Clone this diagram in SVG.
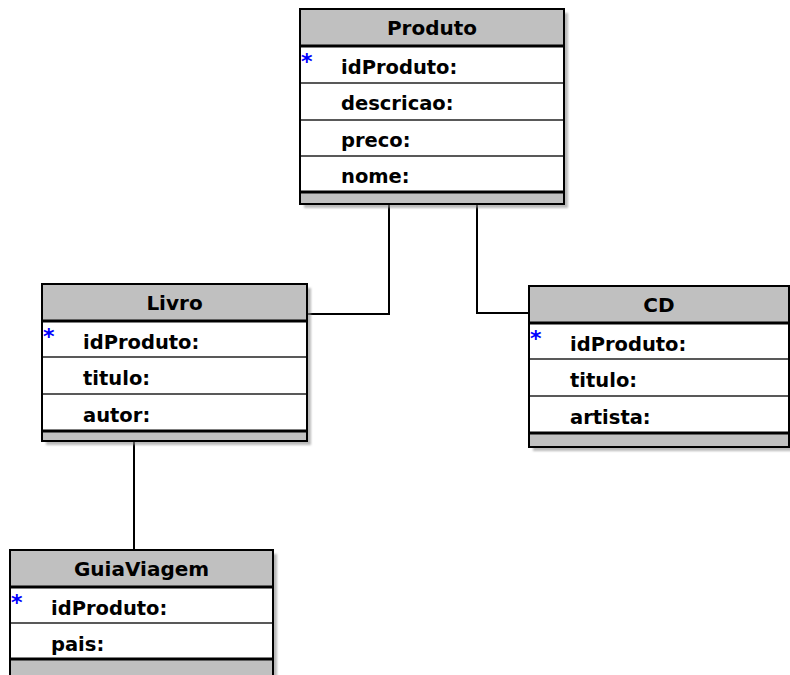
<svg xmlns="http://www.w3.org/2000/svg" width="790" height="675" viewBox="0 0 790 675">
  <style>
    .shadow { fill: #8c8c8c; opacity: 0.6; }
    .head { fill: #c0c0c0; }
    .body { fill: #ffffff; }
    .frame { fill: none; stroke: #000; stroke-width: 2; }
    .sep { stroke: #222; stroke-width: 1.5; }
    .thick { stroke: #000; stroke-width: 3; }
    .title { font-family: "DejaVu Sans", Verdana, sans-serif; font-weight: bold; font-size: 20px; fill: #000; text-anchor: middle; }
    .attr { font-family: "DejaVu Sans", Verdana, sans-serif; font-weight: bold; font-size: 19.5px; fill: #000; }
    .key { font-family: "DejaVu Sans", sans-serif; font-weight: bold; font-size: 22px; fill: #0000ff; }
    .link { fill: none; stroke: #000; stroke-width: 2; }
  </style>
  <defs>
    <filter id="soft" x="-5%" y="-5%" width="110%" height="110%">
      <feGaussianBlur stdDeviation="1.2"/>
    </filter>
  </defs>

  <rect width="790" height="675" fill="#fff"/>

  <g id="connectors">
    <polyline class="link" points="389,204 389,314 307,314"/>
    <polyline class="link" points="477,204 477,313 529,313"/>
    <line class="link" x1="134" y1="441" x2="134" y2="550"/>
  </g>

  <!-- Produto -->
  <g id="produto">
    <rect class="shadow" x="304" y="13" width="264" height="195" filter="url(#soft)"/>
    <rect class="body" x="300" y="9" width="264" height="195"/>
    <rect class="head" x="300" y="9" width="264" height="37"/>
    <rect class="head" x="300" y="193" width="264" height="11"/>
    <line class="thick" x1="300" y1="46" x2="564" y2="46"/>
    <line class="sep" x1="300" y1="83" x2="564" y2="83"/>
    <line class="sep" x1="300" y1="120" x2="564" y2="120"/>
    <line class="sep" x1="300" y1="156" x2="564" y2="156"/>
    <line class="thick" x1="300" y1="192" x2="564" y2="192"/>
    <rect class="frame" x="300" y="9" width="264" height="195"/>
    <text class="title" x="432" y="35">Produto</text>
    <text class="key" x="301" y="69">*</text>
    <text class="attr" x="341" y="74">idProduto:</text>
    <text class="attr" x="341" y="110">descricao:</text>
    <text class="attr" x="341" y="147">preco:</text>
    <text class="attr" x="341" y="183">nome:</text>
  </g>

  <!-- Livro -->
  <g id="livro">
    <rect class="shadow" x="46" y="288" width="265" height="157" filter="url(#soft)"/>
    <rect class="body" x="42" y="284" width="265" height="157"/>
    <rect class="head" x="42" y="284" width="265" height="37"/>
    <rect class="head" x="42" y="432" width="265" height="9"/>
    <line class="thick" x1="42" y1="321" x2="307" y2="321"/>
    <line class="sep" x1="42" y1="357" x2="307" y2="357"/>
    <line class="sep" x1="42" y1="394" x2="307" y2="394"/>
    <line class="thick" x1="42" y1="431" x2="307" y2="431"/>
    <rect class="frame" x="42" y="284" width="265" height="157"/>
    <text class="title" x="174.5" y="310">Livro</text>
    <text class="key" x="43" y="344">*</text>
    <text class="attr" x="83" y="349">idProduto:</text>
    <text class="attr" x="83" y="385">titulo:</text>
    <text class="attr" x="83" y="422">autor:</text>
  </g>

  <!-- CD -->
  <g id="cd">
    <rect class="shadow" x="533" y="290" width="262" height="161" filter="url(#soft)"/>
    <rect class="body" x="529" y="286" width="260" height="161"/>
    <rect class="head" x="529" y="286" width="260" height="37"/>
    <rect class="head" x="529" y="434" width="260" height="13"/>
    <line class="thick" x1="529" y1="323" x2="789" y2="323"/>
    <line class="sep" x1="529" y1="359" x2="789" y2="359"/>
    <line class="sep" x1="529" y1="396" x2="789" y2="396"/>
    <line class="thick" x1="529" y1="433" x2="789" y2="433"/>
    <rect class="frame" x="529" y="286" width="260" height="161"/>
    <text class="title" x="659" y="312">CD</text>
    <text class="key" x="530" y="346">*</text>
    <text class="attr" x="570" y="351">idProduto:</text>
    <text class="attr" x="570" y="387">titulo:</text>
    <text class="attr" x="570" y="424">artista:</text>
  </g>

  <!-- GuiaViagem -->
  <g id="guiaviagem">
    <rect class="shadow" x="14" y="554" width="263" height="130" filter="url(#soft)"/>
    <rect class="body" x="10" y="550" width="263" height="130"/>
    <rect class="head" x="10" y="550" width="263" height="37"/>
    <rect class="head" x="10" y="660" width="263" height="20"/>
    <line class="thick" x1="10" y1="587" x2="273" y2="587"/>
    <line class="sep" x1="10" y1="623" x2="273" y2="623"/>
    <line class="thick" x1="10" y1="659" x2="273" y2="659"/>
    <rect class="frame" x="10" y="550" width="263" height="130"/>
    <text class="title" x="141.5" y="576">GuiaViagem</text>
    <text class="key" x="11" y="610">*</text>
    <text class="attr" x="51" y="615">idProduto:</text>
    <text class="attr" x="51" y="651">pais:</text>
  </g>
</svg>
